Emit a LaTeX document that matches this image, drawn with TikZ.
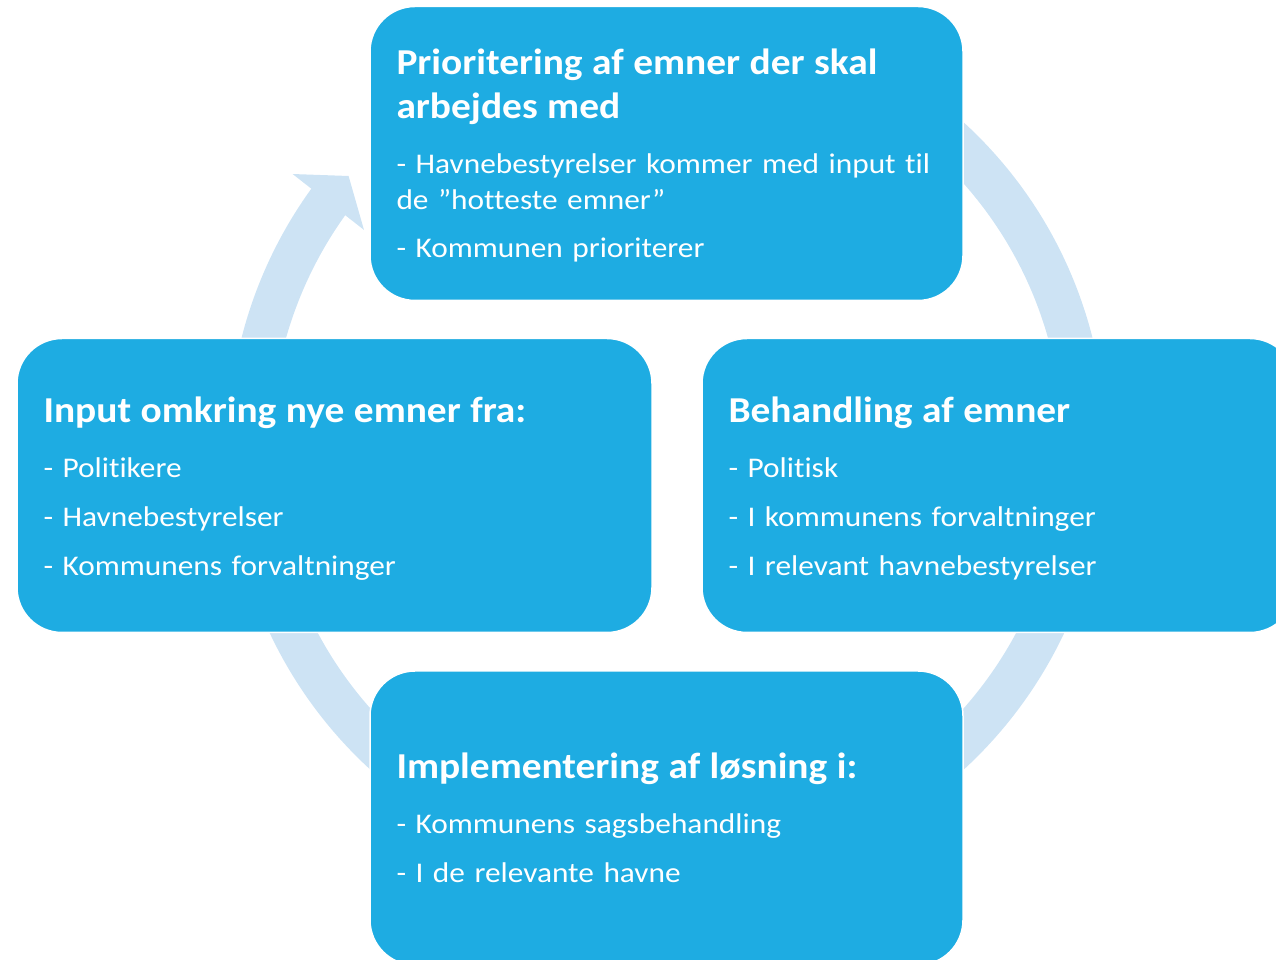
\documentclass[tikz,border=0pt]{standalone}
\usepackage{fontspec}
\setmainfont{Carlito}[FakeStretch=1.1, Ligatures=NoCommon, BoldFeatures={FakeStretch=1.08}]
\usetikzlibrary{arrows.meta,bending}

\definecolor{boxblue}{RGB}{30,172,226}
\definecolor{ringblue}{RGB}{205,227,244}

\newcommand{\boxhead}[1]{{\fontsize{36.5}{44}\selectfont\bfseries #1\par}\vspace{19pt}}
\newcommand{\itemgap}{\par\vspace{12.8pt}}

\begin{document}
\begin{tikzpicture}[x=1pt, y=1pt,
    box_style/.style = {draw=white, line width=1.5pt, fill=boxblue, text=white, rectangle, rounded corners=45pt,
        align=left, inner xsep=26.5pt, minimum height=294pt, font=\fontsize{28.5}{36}\selectfont}]

\useasboundingbox (0,0) rectangle (1276,960);

% ring with arrow, behind the boxes
\draw[ringblue, line width=43pt, -{Triangle[length=33pt, width=89pt]}]
    (667,514) ++(460:417.5) arc[start angle=460, end angle=139.7, radius=417.5];

\node[box_style, minimum width=593pt, text width=540pt] (1) at (666.5,806.5) {%
    \boxhead{Prioritering af emner der skal\\arbejdes med}%
    - Havnebestyrelser kommer med input til\\de ”hotteste emner”\itemgap
    - Kommunen prioriterer\par\vspace{-4pt}};

\node[box_style, below of=1, right of=1, node distance=332pt, minimum width=593pt, text width=540pt] (2) {%
    \boxhead{Behandling af emner}%
    - Politisk\itemgap
    - I kommunens forvaltninger\itemgap
    - I relevant havnebestyrelser\par\vspace{-6pt}};

\node[box_style, below of=1, node distance=664.5pt, minimum width=593pt, text width=540pt] (3) {%
    \boxhead{Implementering af løsning i:}%
    - Kommunens sagsbehandling\itemgap
    - I de relevante havne};

\node[box_style, below of=1, left of=1, node distance=332pt, minimum width=635pt, text width=582pt] (4) {%
    \boxhead{Input omkring nye emner fra:}%
    - Politikere\itemgap
    - Havnebestyrelser\itemgap
    - Kommunens forvaltninger\par\vspace{-6pt}};

\end{tikzpicture}
\end{document}
